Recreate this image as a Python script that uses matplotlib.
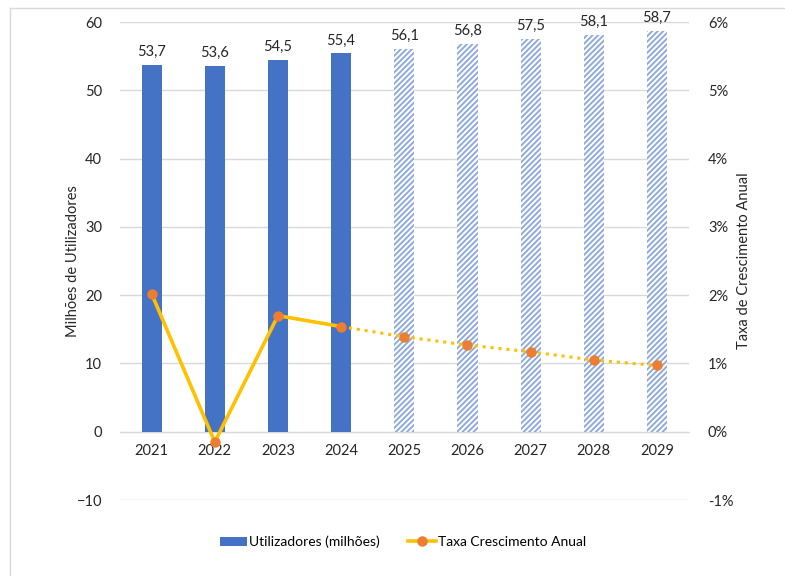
import matplotlib.pyplot as plt
from matplotlib.lines import Line2D
from matplotlib.patches import Patch

plt.rcParams["font.family"] = ["Lato", "DejaVu Sans"]
plt.rcParams["hatch.linewidth"] = 1.4

# Users (millions) per year; 2025 onwards are forecasts
years = ["2021", "2022", "2023", "2024", "2025", "2026", "2027", "2028", "2029"]
users = [53.7, 53.6, 54.5, 55.4, 56.1, 56.8, 57.5, 58.1, 58.7]
growth = [2.02, -0.15, 1.70, 1.54, 1.39, 1.27, 1.17, 1.05, 0.97]  # % per year
n_actual = 4

blue = "#4472C4"
hatch_blue = "#8FAADC"
yellow = "#FFC000"
orange = "#ED7D31"
grid = "#D9D9D9"
txt = "#262626"

fig = plt.figure(figsize=(7.85, 5.76), dpi=100)
ax = fig.add_axes([0.1529, 0.1319, 0.7242, 0.8299])
ax2 = ax.twinx()
ax.set_zorder(1)
ax2.set_zorder(2)
ax.patch.set_visible(False)

x = list(range(len(years)))
for i, (xi, v) in enumerate(zip(x, users)):
    if i < n_actual:
        ax.bar(xi, v, width=0.32, color=blue, linewidth=0, zorder=3)
    else:
        ax.bar(xi, v, width=0.32, facecolor="white", edgecolor=hatch_blue,
               hatch="//////", linewidth=0, zorder=3)
    ax.text(xi, v + 0.85, f"{v:.1f}".replace(".", ","), ha="center", va="bottom",
            fontsize=10.5, color=txt)

ax.set_xlim(-0.5, len(years) - 0.5)
ax.set_ylim(-10, 60)
ax.set_yticks(range(-10, 61, 10))
ax.set_xticks(x)
ax.set_xticklabels(years)
ax.grid(axis="y", color=grid, linewidth=1, zorder=0)
for s in ["left", "right", "top"]:
    ax.spines[s].set_visible(False)
ax.spines["bottom"].set_position(("data", 0))
ax.spines["bottom"].set_color(grid)
ax.tick_params(axis="y", length=0, pad=13, labelsize=10.5, labelcolor=txt)
ax.tick_params(axis="x", length=0, pad=9, labelsize=10.5, labelcolor=txt)
ax.set_ylabel("Milhões de Utilizadores", fontsize=10.5, color=txt)
ax.yaxis.set_label_coords(-0.070, 0.5)

# Growth rate: solid for actual years, dotted for forecast
ax2.plot(x[:n_actual], growth[:n_actual], color=yellow, linewidth=2.6,
         solid_capstyle="round", zorder=4)
ax2.plot(x[n_actual - 1:], growth[n_actual - 1:], color=yellow, linewidth=2.2,
         linestyle=(0, (1, 1.6)), zorder=4)
ax2.plot(x, growth, linestyle="none", marker="o", markersize=6.5,
         color=orange, zorder=5)
ax2.set_ylim(-1, 6)
ax2.set_yticks(range(-1, 7))
ax2.set_yticklabels([f"{t}%" for t in range(-1, 7)])
for s in ax2.spines.values():
    s.set_visible(False)
ax2.tick_params(axis="y", length=0, pad=14, labelsize=10.5, labelcolor=txt)
ax2.set_ylabel("Taxa de Crescimento Anual", fontsize=10.5, color=txt, rotation=90)
ax2.yaxis.set_label_coords(1.086, 0.5)

handles = [
    Patch(facecolor=blue, edgecolor="none"),
    Line2D([0], [0], color=yellow, linewidth=2.6, marker="o", markersize=6.5,
           markerfacecolor=orange, markeredgecolor=orange),
]
fig.legend(handles, ["Utilizadores (milhões)", "Taxa Crescimento Anual"],
           loc="center", bbox_to_anchor=(0.513, 0.059), ncol=2, frameon=False,
           fontsize=10, handlelength=2.0, columnspacing=2.0, handletextpad=0.15)

# outer chart border
fig.add_artist(Line2D([0.0127, 0.0127], [0.986, -0.1], color=grid, linewidth=1))
fig.add_artist(Line2D([0.0127, 1.1], [0.986, 0.986], color=grid, linewidth=1))

fig.savefig("out.png", dpi=100)
